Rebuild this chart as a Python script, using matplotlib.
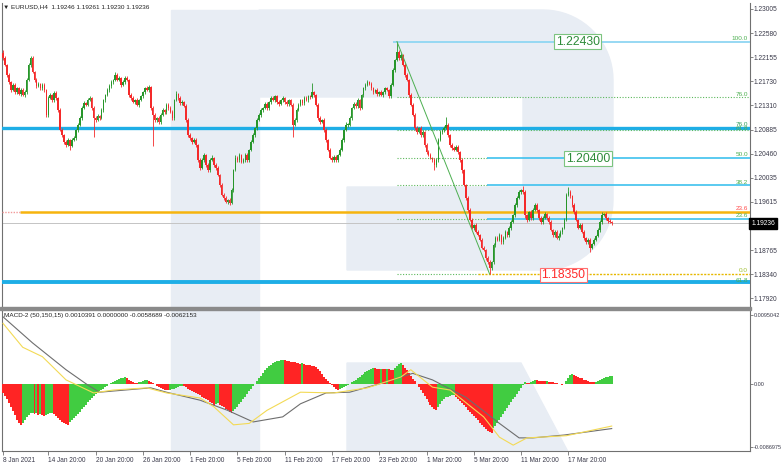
import numpy as np
import matplotlib.pyplot as plt
from matplotlib.patches import Polygon, Rectangle
from matplotlib.transforms import blended_transform_factory

plt.rcParams['font.family'] = ['Liberation Sans', 'DejaVu Sans']

# ---- data: EURUSD H4 closes (bar 0 = 8 Jan 2021) ----
closes = [
    1.2214, 1.2202, 1.2184, 1.2172, 1.2158, 1.2167, 1.2154, 1.2161, 1.2151, 1.2158,
    1.2149, 1.2154, 1.2176, 1.2202, 1.2214, 1.2190, 1.2176, 1.2165, 1.2169, 1.2161,
    1.2167, 1.2158, 1.2114, 1.2144, 1.2149, 1.2140, 1.2153, 1.2144, 1.2123, 1.2088,
    1.2079, 1.2067, 1.2061, 1.2070, 1.2060, 1.2070, 1.2074, 1.2088, 1.2097, 1.2109,
    1.2126, 1.2135, 1.2132, 1.2140, 1.2144, 1.2126, 1.2109, 1.2105, 1.2112, 1.2109,
    1.2123, 1.2140, 1.2149, 1.2158, 1.2165, 1.2172, 1.2176, 1.2184, 1.2176, 1.2179,
    1.2167, 1.2172, 1.2179, 1.2176, 1.2149, 1.2144, 1.2137, 1.2140, 1.2132, 1.2140,
    1.2147, 1.2154, 1.2161, 1.2158, 1.2163, 1.2126, 1.2114, 1.2105, 1.2109, 1.2102,
    1.2114, 1.2123, 1.2119, 1.2132, 1.2126, 1.2119, 1.2109, 1.2140, 1.2151, 1.2144,
    1.2135, 1.2137, 1.2130, 1.2105, 1.2079, 1.2074, 1.2067, 1.2070, 1.2061, 1.2035,
    1.2021, 1.2035, 1.2044, 1.2026, 1.2017, 1.2035, 1.2039, 1.2026, 1.2021, 1.2009,
    1.1991, 1.1974, 1.1968, 1.1961, 1.1965, 1.1960, 1.1982, 1.2017, 1.2039, 1.2035,
    1.2044, 1.2032, 1.2035, 1.2044, 1.2035, 1.2053, 1.2067, 1.2079, 1.2091, 1.2105,
    1.2114, 1.2123, 1.2126, 1.2133, 1.2126, 1.2137, 1.2144, 1.2140, 1.2147, 1.2137,
    1.2133, 1.2140, 1.2144, 1.2137, 1.2133, 1.2140, 1.2132, 1.2097, 1.2105, 1.2123,
    1.2132, 1.2140, 1.2135, 1.2144, 1.2140, 1.2147, 1.2146, 1.2154, 1.2149, 1.2132,
    1.2109, 1.2102, 1.2105, 1.2088, 1.2070, 1.2053, 1.2039, 1.2035, 1.2040, 1.2035,
    1.2044, 1.2053, 1.2070, 1.2088, 1.2097, 1.2097, 1.2109, 1.2126, 1.2133, 1.2130,
    1.2140, 1.2126, 1.2149, 1.2161, 1.2167, 1.2172, 1.2169, 1.2161, 1.2154, 1.2158,
    1.2151, 1.2154, 1.2149, 1.2154, 1.2161, 1.2158, 1.2147, 1.2167, 1.2193, 1.2211,
    1.2225, 1.2214, 1.2219, 1.2202, 1.2184, 1.2176, 1.2149, 1.2132, 1.2114, 1.2091,
    1.2084, 1.2091, 1.2079, 1.2084, 1.2061, 1.2049, 1.2044, 1.2039, 1.2035, 1.2026,
    1.2035, 1.2070, 1.2084, 1.2088, 1.2091, 1.2097, 1.2079, 1.2061, 1.2056, 1.2053,
    1.2058, 1.2049, 1.2035, 1.2017, 1.1991, 1.1968, 1.1947, 1.1930, 1.1916, 1.1921,
    1.1909, 1.1903, 1.1895, 1.1881, 1.1877, 1.1863, 1.1856, 1.1845, 1.1856, 1.1886,
    1.1898, 1.1895, 1.1903, 1.1891, 1.1898, 1.1909, 1.1903, 1.1916, 1.1926, 1.1938,
    1.1956, 1.1968, 1.1979, 1.1982, 1.1979, 1.1938, 1.1930, 1.1944, 1.1933, 1.1947,
    1.1956, 1.1947, 1.1933, 1.1926, 1.1933, 1.1940, 1.1933, 1.1926, 1.1912, 1.1903,
    1.1909, 1.1898, 1.1902, 1.1909, 1.1916, 1.1930, 1.1974, 1.1979, 1.1972, 1.1956,
    1.1944, 1.1930, 1.1916, 1.1921, 1.1909, 1.1898, 1.1891, 1.1895, 1.1881, 1.1888,
    1.1895, 1.1902, 1.1912, 1.1926, 1.1938, 1.1940, 1.1933, 1.1928, 1.1926, 1.19236,
]
first_open = 1.2223

# upper / lower shadow lengths in pips
wick_up = [
    5, 3, 2, 3, 2, 4, 3, 3, 2, 3,  3, 4, 3, 3, 4, 3, 2, 3, 3, 2,
    3, 3, 2, 4, 3, 2, 3, 3, 2, 3,  3, 2, 3, 4, 2, 3, 3, 2, 3, 4,
    3, 3, 2, 4, 3, 2, 3, 3, 4, 2,  3, 3, 2, 4, 3, 3, 2, 6, 3, 3,
    2, 3, 4, 3, 2, 3, 3, 2, 4, 3,  3, 2, 3, 4, 3, 2, 3, 3, 2, 3,
    4, 3, 2, 3, 3, 4, 3, 3, 5, 2,  3, 3, 2, 3, 4, 3, 2, 3, 3, 2,
    3, 4, 3, 2, 3, 3, 4, 2, 3, 3,  2, 3, 3, 4, 2, 3, 3, 2, 4, 3,
    3, 2, 3, 3, 4, 2, 3, 3, 2, 3,  4, 3, 2, 3, 3, 2, 4, 3, 3, 2,
    3, 3, 4, 2, 3, 3, 2, 3, 3, 4,  3, 2, 3, 3, 4, 3, 2, 16, 3, 2,
    3, 3, 2, 4, 3, 2, 3, 3, 4, 3,  2, 3, 3, 2, 4, 3, 3, 2, 3, 3,
    4, 3, 2, 3, 3, 4, 2, 3, 3, 2,  3, 3, 4, 2, 3, 3, 2, 3, 3, 2,
    18, 3, 4, 2, 3, 3, 2, 3, 3, 4,  3, 2, 3, 3, 2, 3, 3, 4, 2, 3,
    3, 4, 3, 2, 3, 14, 3, 2, 3, 3,  4, 3, 2, 3, 3, 2, 3, 3, 4, 2,
    3, 3, 2, 3, 3, 2, 3, 3, 2, 4,  3, 3, 4, 2, 3, 3, 2, 3, 3, 2,
    3, 4, 3, 2, 7, 3, 3, 2, 4, 3,  3, 3, 2, 3, 4, 3, 2, 3, 3, 2,
    3, 3, 4, 3, 2, 3, 3, 9, 3, 2,  3, 3, 2, 4, 3, 3, 2, 3, 3, 2,
    3, 2, 3, 3, 6, 2, 3, 2, 3, 2,
]
wick_dn = [
    3, 2, 3, 3, 4, 2, 3, 3, 2, 3,  2, 3, 3, 2, 3, 3, 4, 3, 2, 3,
    3, 3, 4, 3, 2, 3, 3, 4, 3, 2,  3, 4, 3, 2, 7, 3, 2, 3, 3, 2,
    3, 2, 3, 3, 2, 3, 34, 3, 2, 3,  2, 3, 3, 2, 3, 3, 4, 2, 3, 3,
    3, 2, 3, 3, 4, 3, 2, 3, 3, 4,  2, 3, 3, 2, 3, 3, 55, 3, 4, 3,
    3, 2, 3, 3, 4, 2, 3, 3, 2, 3,  3, 4, 2, 3, 3, 3, 4, 2, 3, 3,
    3, 2, 3, 4, 3, 3, 2, 3, 3, 2,  3, 3, 4, 2, 3, 4, 3, 3, 2, 3,
    3, 3, 2, 4, 3, 3, 2, 3, 3, 4,  2, 3, 3, 2, 3, 4, 3, 2, 3, 3,
    3, 2, 3, 3, 4, 3, 2, 22, 3, 3,  2, 3, 3, 4, 2, 3, 3, 2, 3, 3,
    4, 3, 2, 3, 3, 2, 3, 4, 3, 3,  3, 2, 3, 3, 2, 4, 3, 3, 2, 3,
    3, 3, 2, 4, 3, 2, 3, 3, 3, 2,  3, 4, 2, 3, 3, 2, 3, 3, 2, 3,
    2, 3, 3, 2, 3, 3, 4, 3, 2, 3,  3, 2, 3, 4, 3, 3, 2, 3, 3, 8,
    3, 3, 2, 3, 3, 2, 3, 4, 3, 3,  2, 3, 3, 4, 2, 3, 3, 2, 3, 4,
    3, 2, 3, 3, 2, 3, 4, 10, 3, 3,  4, 3, 2, 3, 3, 2, 3, 3, 4, 2,
    3, 3, 2, 3, 3, 4, 3, 2, 3, 3,  2, 3, 3, 4, 3, 2, 3, 3, 2, 4,
    3, 2, 3, 3, 4, 3, 2, 3, 3, 3,  3, 2, 3, 3, 2, 4, 3, 3, 7, 2,
    3, 3, 2, 3, 3, 2, 3, 3, 2, 3,
]

# MACD histogram, units of 1e-4
macd_hist = [
    -13, -17, -22, -27, -33, -38, -44, -50, -55, -57,
    -54, -50, -46, -43, -41, -40, -42, -41, -43, -42,
    -44, -45, -43, -42, -41, -40, -42, -45, -48, -51,
    -53, -55, -56, -57, -53, -51, -48, -45, -42, -39,
    -35, -32, -29, -26, -23, -20, -17, -15, -13, -11,
    -9, -7, -5, -3, -1, 1, 2.5, 4, 5, 6,
    7, 8, 8.5, 7, 5.5, 4, 2.5, 1, 0.5, 1.5,
    2.5, 3.5, 4.5, 5, 4, 2.5, 1, -1, -3, -5,
    -6.5, -7.5, -8.5, -9, -9.5, -9, -8, -7, -6, -5,
    -4, -3, -4, -5.5, -7, -8.5, -10, -11.5, -13, -14.5,
    -16, -18, -19.5, -21, -23, -25, -27, -29, -28, -27,
    -29, -31, -33, -35, -37, -39, -41, -38, -35, -32,
    -28, -25, -22, -18, -15, -11, -8, -4, -1, 3,
    7, 11, 15, 18, 21, 24, 26, 28, 29.5, 30.5,
    31.5, 32, 32.5, 32, 31, 30.5, 30, 29.5, 29, 28.5,
    28, 27.5, 28, 26.5, 26, 25.5, 25, 24.5, 24, 23,
    20, 17, 13, 9.5, 6, 3, 0.5, -2, -4.5, -7,
    -9, -7.5, -6, -4.5, -3, -1.5, 0, 1.5, 3.5, 5.5,
    7.5, 9.5, 11.5, 13.5, 15.5, 17, 18.5, 20, 21.5, 21,
    20.5, 20, 20.5, 20, 19.5, 20, 19.5, 19, 18.5, 21,
    24, 27, 28.5, 26, 22, 18, 14, 10, 6, 3,
    -1, -5, -9, -13, -17, -21, -25, -29, -32, -35,
    -37, -32, -28, -24, -21, -19, -18, -17, -16.5, -16,
    -18, -21, -24, -27, -30, -33, -36, -39, -42, -45,
    -48, -51, -54, -57, -60, -63, -65, -67, -68, -62,
    -58, -54, -50, -46, -42, -38, -34, -30, -26, -22,
    -18, -14, -10, -6, -2, 1.5, 1, 0.5, 1.5, 3.5,
    5, 4.5, 4, 3.8, 3.5, 3, 3.2, 2.5, 2, 1.5,
    1, 0.5, -0.5, -1, -1.5, -1, 3, 8, 12, 13,
    12, 10, 9, 8, 7, 5.5, 4.5, 3.5, 2.5, 2,
    1.5, 2.5, 3.5, 5, 6.5, 7.5, 8.5, 9.5, 10, 10.391,
]

# MACD lines (bar index, value in 1e-4)
grey_bars = [0, 15, 32, 43, 49, 75, 83, 100, 114, 127, 142, 151, 164, 176, 193, 208,
             218, 235, 252, 262, 269, 285, 309]
grey_vals = [92, 56, 19, -2, -12, -6, -12, -23, -37, -53, -46, -28, -13, -12, 1, 14,
             5, -19, -55, -75, -75, -71, -62.153]
yellow_bars = [0, 10, 20, 32, 46, 56, 73, 83, 100, 107, 117, 125, 134, 151, 168, 185,
               202, 207, 218, 227, 244, 252, 259, 266, 286, 309]
yellow_vals = [83, 50, 37, 5, -13, -9, -6, -13, -20, -32, -57, -55, -37, -12, -13, -6,
               9, 19, -5, -9, -46, -74, -85, -75, -72, -58.689]

price_ticks = [1.23005, 1.22580, 1.22155, 1.21730, 1.21310, 1.20885, 1.20460,
               1.20035, 1.19615, 1.18765, 1.18340, 1.17920]
macd_ticks = [0.0095042, 0.0, -0.0086975]
macd_tick_labels = ['0.0095042', '0.00', '-0.0086975']
date_bars = [0, 23, 47, 71, 95, 119, 143, 167, 191, 215, 239, 263, 287]
date_labels = ['8 Jan 2021', '14 Jan 20:00', '20 Jan 20:00', '26 Jan 20:00',
               '1 Feb 20:00', '5 Feb 20:00', '11 Feb 20:00', '17 Feb 20:00',
               '23 Feb 20:00', '1 Mar 20:00', '5 Mar 20:00', '11 Mar 20:00',
               '17 Mar 20:00']

fib_high, fib_low = 1.2243, 1.1835
fib_levels = [1.2243, 1.21451, 1.20871, 1.2039, 1.19909, 1.19313, 1.1835]
level_a, level_b = 1.20912, 1.18208      # thick blue support/resistance
level_orange = 1.19443
last_price = 1.19236

# ---- figure ----
W, H = 782, 463
fig = plt.figure(figsize=(W / 100, H / 100), dpi=100)
fig.patch.set_facecolor('white')


def fp(pts):
    return [(x / W, 1 - y / H) for x, y in pts]


# background "R" watermark
wm = '#e8edf4'
fig.patches.append(Polygon(fp([(171, 10), (259, 10), (259, 451), (171, 451)]),
                           closed=True, transform=fig.transFigure, color=wm, zorder=-10))
t = np.linspace(0, np.pi / 2, 20)
bowl = [(259, 10), (543, 10)]
bowl += [(543 + 70 * np.sin(a), 80 - 70 * np.cos(a)) for a in t]
bowl += [(543 + 70 * np.cos(a), 200 + 70 * np.sin(a)) for a in t]
bowl += [(347, 270), (347, 187), (523, 187), (523, 97), (259, 97)]
fig.patches.append(Polygon(fp(bowl), closed=True, transform=fig.transFigure,
                           color=wm, zorder=-10))
fig.patches.append(Polygon(fp([(347, 363), (521, 363), (567.6, 451), (347, 451)]),
                           closed=True, transform=fig.transFigure, color=wm, zorder=-10))

x_left, x_right = -0.5, 379.2
ax1 = fig.add_axes([2 / W, 1 - 307 / H, 748 / W, 304 / H])
ax2 = fig.add_axes([2 / W, 1 - 451 / H, 748 / W, 142 / H])
for ax in (ax1, ax2):
    ax.set_facecolor('none')
    ax.set_xlim(x_left, x_right)
    ax.spines['top'].set_visible(False)
    for s in ('left', 'right', 'bottom'):
        ax.spines[s].set_color('#707070')
        ax.spines[s].set_linewidth(0.8)
    ax.yaxis.tick_right()
    ax.tick_params(axis='y', direction='out', length=2, width=0.5, pad=0.6,
                   labelsize=4.8, labelcolor='#3a3a4a', color='#555555')
ax2.tick_params(axis='y', labelsize=4.0)
ax1.spines['bottom'].set_visible(False)
ax1.set_ylim(1.17769, 1.23107)
ax2.set_ylim(-0.009308, 0.010274)

# ---- candles ----
c = np.array(closes)
o = np.r_[first_open, c[:-1]]
hi = np.maximum(o, c) + np.array(wick_up) * 1e-4
lo = np.minimum(o, c) - np.array(wick_dn) * 1e-4
idx = np.arange(len(c))
up = c >= o
cols = np.where(up, '#27962a', '#f42a2a')
ax1.vlines(idx, lo, hi, colors=cols, lw=0.6, zorder=4)
ax1.bar(idx, np.maximum(np.abs(c - o), 0.00005), bottom=np.minimum(o, c), width=0.8,
        color=cols, lw=0, zorder=4)

# ---- horizontal levels ----
ax1.axhline(level_a, color='#1eaee6', lw=2.4, zorder=3)
ax1.axhline(level_b, color='#1eaee6', lw=2.8, zorder=3)
ax1.hlines(level_orange, 8.6, x_right, color='#f6b40e', lw=1.8, zorder=3)
ax1.hlines(level_orange, x_left, 8.6, color='#f29a9a', lw=1.0, ls=(0, (1, 1)), zorder=3)
ax1.axhline(last_price, color='#c4c4c4', lw=0.7, zorder=2)

green = '#5cb85c'
cyan = '#3ec1ee'
ax1.hlines(fib_levels[0], 198, x_right, color='#8fd6f2', lw=1.3, zorder=3)
for lv in fib_levels[1:3]:
    ax1.hlines(lv, 200, x_right, color=green, lw=0.8, ls=(0, (1, 1.5)), zorder=3)
for lv in fib_levels[3:6]:
    ax1.hlines(lv, 200, 245.5, color=green, lw=0.8, ls=(0, (1, 1.5)), zorder=3)
    ax1.hlines(lv, 245.5, x_right, color=cyan, lw=1.2, zorder=3)
ax1.hlines(fib_levels[6], 200, 241, color=green, lw=0.8, ls=(0, (1, 1.5)), zorder=3)
ax1.hlines(fib_levels[6], 241, x_right, color='#e6b800', lw=1.0, ls=(0, (1.5, 1)), zorder=3)

ax1.plot([200, 247], [fib_high, fib_low], color='#4caf50', lw=0.7, zorder=5)

# level captions at right edge
xr = 378.3
cap = dict(fontsize=4.6, ha='right', va='bottom', zorder=6)
ax1.text(xr, 1.2243 + 0.0001, '100.0', color='#4caf50', **cap)
ax1.text(xr, 1.21451 + 0.0001, '76.0', color='#4caf50', **cap)
ax1.text(xr, level_a + 0.0002, '76.0', color='#2f9e5a', **cap)
ax1.text(xr, 1.20871 - 0.0001, '61.8', color='#4caf50', **cap)
ax1.text(xr, 1.2039 + 0.0001, '50.0', color='#4caf50', **cap)
ax1.text(xr, 1.19909 + 0.0001, '38.2', color='#4caf50', **cap)
ax1.text(xr, level_orange + 0.0002, '23.6', color='#ff4a4a', **cap)
ax1.text(xr, 1.19313 + 0.0001, '23.6', color='#4caf50', **cap)
ax1.text(xr, 1.1835 + 0.0001, '0.0', color='#9fbf2f', **cap)
ax1.text(xr, level_b - 0.0002, '61.8', color='#4caf50', **cap)

box = dict(fontsize=8.8, ha='center', va='center', zorder=7)
ax1.text(291.8, 1.2243, '1.22430', color='#2e8b3a',
         bbox=dict(boxstyle='square,pad=0.12', fc='white', ec='#7cc47f', lw=0.8), **box)
ax1.text(297.0, 1.2037, '1.20400', color='#2e8b3a',
         bbox=dict(boxstyle='square,pad=0.12', fc='white', ec='#7cc47f', lw=0.8), **box)
ax1.text(284.3, 1.18331, '1.18350', color='#ff2a2a',
         bbox=dict(boxstyle='square,pad=0.12', fc='white', ec='#ff7070', lw=0.8), **box)

# axis labels
ax1.set_xticks([])
ax1.set_yticks(price_ticks)
ax1.set_yticklabels([f'{p:.5f}' for p in price_ticks])
tr = blended_transform_factory(ax1.transAxes, ax1.transData)
ax1.text(1.002, last_price, '1.19236', transform=tr, fontsize=4.8, color='white',
         va='center', ha='left', zorder=8, clip_on=False,
         bbox=dict(boxstyle='square,pad=0.3', fc='black', ec='black'))

# ---- MACD ----
h = np.array(macd_hist) * 1e-4
rising = np.r_[False, np.diff(h) >= 0]
hcols = np.where(rising, '#41cc41', '#ff2424')
ax2.bar(idx, h, width=1.0, color=hcols, lw=0, zorder=3, antialiased=False)
ax2.plot(grey_bars, np.array(grey_vals) * 1e-4, color='#6e6e6e', lw=0.8, zorder=4)
ax2.plot(yellow_bars, np.array(yellow_vals) * 1e-4, color='#f3da55', lw=0.8, zorder=4)
ax2.set_yticks(macd_ticks)
ax2.set_yticklabels(macd_tick_labels)
ax2.set_xticks(date_bars)
ax2.set_xticklabels(date_labels, ha='left')
ax2.tick_params(axis='x', direction='out', length=3, width=0.5, pad=1.5,
                labelsize=4.7, labelcolor='#3a3a4a', color='#555555')

# panel divider and headers
fig.patches.append(Rectangle((0, 1 - 309.5 / H), 751 / W, 3 / H,
                             transform=fig.transFigure, color='#8a8a8a', zorder=10))
fig.text(3 / W, 1 - 6.5 / H, '\u25bc EURUSD,H4  1.19246 1.19261 1.19230 1.19236',
         fontsize=4.6, color='#222222', va='center', ha='left')
fig.text(4 / W, 1 - 315.5 / H,
         'MACD-2 (50,150,15) 0.0010391 0.0000000 -0.0058689 -0.0062153',
         fontsize=4.6, color='#222222', va='center', ha='left')

fig.savefig('out.png', dpi=100)
